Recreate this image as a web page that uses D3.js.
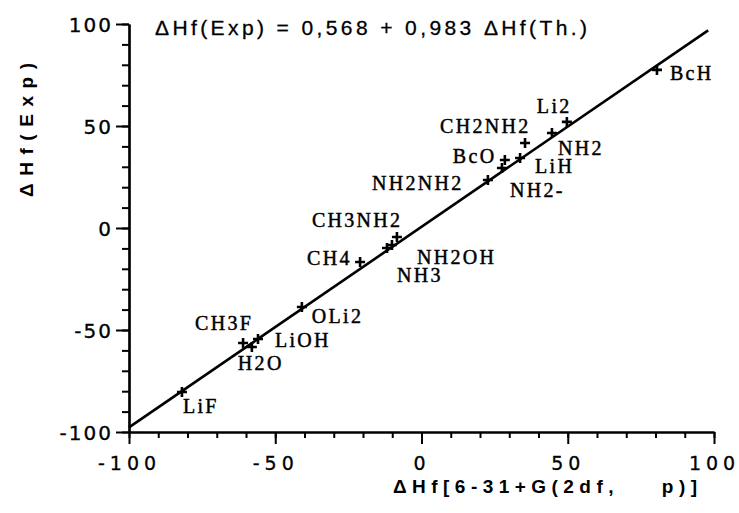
<!DOCTYPE html>
<html>
<head>
<meta charset="utf-8">
<script src="https://cdn.jsdelivr.net/npm/d3@7"></script>
<style>
  html, body { margin: 0; padding: 0; background: #fff; }
  svg { display: block; }
</style>
</head>
<body>
<svg id="chart" width="739" height="513"></svg>
<script>
// ---- data ----
const molecules = ["BcH","Li2","NH2","CH2NH2","LiH","BcO","NH2-","NH2NH2","CH3NH2","NH2OH","NH3","CH4","OLi2","CH3F","H2O","LiOH","LiF"];
const hfTheory  = [80.5, 49.7, 44.6, 35.4, 33.7, 28.5, 27.5, 22.7, -8.4, -10.1, -11.8, -21.0, -40.9, -61.0, -58.0, -55.9, -81.9];
const hfExp     = [77.5, 52.0, 46.6, 41.7, 34.3, 33.3, 29.4, 23.5, -4.4, -8.3, -9.8, -16.7, -38.7, -56.4, -58.3, -54.4, -80.4];
const fitIntercept = 0.568;
const fitSlope = 0.983;
const fitRange = [-100, 98];
const majorTicks = [-100, -50, 0, 50, 100];
const minorTicks = d3.range(-100, 101, 10);
const titleText = "\u0394Hf(Exp) = 0,568 + 0,983 \u0394Hf(Th.)";
const xTitle = "\u0394Hf[6-31+G(2df,    p)]";
const yTitle = "\u0394Hf(Exp)";

// ---- layout (label offsets in px from each point) ----
const labelOffsets = {
  "BcH":[13,10], "Li2":[-30,-9], "NH2":[6,22], "CH2NH2":[-85,-10], "LiH":[15,15],
  "BcO":[-52,3], "NH2-":[8,29], "NH2NH2":[-116,10], "CH3NH2":[-85,-10],
  "NH2OH":[25,19], "NH3":[10,34], "CH4":[-53,3], "OLi2":[10,16], "CH3F":[-48,-13],
  "H2O":[-14,23], "LiOH":[17,8], "LiF":[1,21]
};

const svg = d3.select("#chart");
const x = d3.scaleLinear().domain([-100, 100]).range([129, 714]);
const y = d3.scaleLinear().domain([-100, 100]).range([432, 24]);
const x0 = y(-100), y0 = x(-100);
const fmt = d => String(d);

// axes
const tickFont = "'DejaVu Sans', sans-serif";
const gx = svg.append("g").attr("transform", `translate(0,${x0})`);
gx.call(d3.axisBottom(x).tickValues(minorTicks).tickSize(6).tickFormat("").tickSizeOuter(0));
gx.call(g => g.append("g").call(d3.axisBottom(x).tickValues(majorTicks).tickSize(12).tickFormat(fmt).tickSizeOuter(0)));
gx.selectAll("path.domain").attr("stroke", "#000").attr("stroke-width", 2.2);
gx.selectAll("line").attr("stroke", "#000").attr("stroke-width", 2);
gx.selectAll("text").attr("fill", "#000").attr("font-family", tickFont).attr("font-size", 19)
  .attr("stroke", "#000").attr("stroke-width", 0.3)
  .style("letter-spacing", "5px").attr("y", 0).attr("dy", 0)
  .attr("transform", "translate(0,38)");

const gy = svg.append("g").attr("transform", `translate(${y0},0)`);
gy.call(d3.axisLeft(y).tickValues(minorTicks).tickSize(7).tickFormat("").tickSizeOuter(0));
gy.call(g => g.append("g").call(d3.axisLeft(y).tickValues(majorTicks).tickSize(13).tickFormat(fmt).tickSizeOuter(0)));
gy.selectAll("path.domain").attr("stroke", "#000").attr("stroke-width", 2.2);
gy.selectAll("line").attr("stroke", "#000").attr("stroke-width", 2);
gy.selectAll("text").attr("fill", "#000").attr("font-family", tickFont).attr("font-size", 20)
  .attr("stroke", "#000").attr("stroke-width", 0.3)
  .style("letter-spacing", "2px").attr("x", -16).attr("dy", "0.36em");

// fit line
const line = d3.line().x(d => x(d)).y(d => y(fitIntercept + fitSlope * d));
svg.append("path").datum(fitRange).attr("d", line)
  .attr("fill", "none").attr("stroke", "#000").attr("stroke-width", 2.6);

// points
const pts = molecules.map((m, i) => ({ name: m, tx: hfTheory[i], ex: hfExp[i] }));
const arm = 5;
svg.append("g").selectAll("path").data(pts).join("path")
  .attr("d", d => { const px = x(d.tx), py = y(d.ex);
    return `M${px-arm},${py}H${px+arm}M${px},${py-arm}V${py+arm}`; })
  .attr("stroke", "#000").attr("stroke-width", 2.6).attr("fill", "none");

// labels
svg.append("g").selectAll("text").data(pts).join("text")
  .attr("x", d => x(d.tx) + labelOffsets[d.name][0])
  .attr("y", d => y(d.ex) + labelOffsets[d.name][1])
  .attr("font-family", "'Liberation Serif', 'Times New Roman', serif")
  .attr("font-size", 20).style("letter-spacing", "2.3px").attr("fill", "#000")
  .attr("stroke", "#000").attr("stroke-width", 0.45)
  .text(d => d.name);

// title equation
svg.append("text").attr("x", 155).attr("y", 35)
  .attr("font-family", "'Liberation Sans', Arial, sans-serif").attr("font-size", 21)
  .attr("stroke", "#000").attr("stroke-width", 0.3)
  .attr("textLength", 432).attr("lengthAdjust", "spacing").attr("fill", "#000")
  .text(titleText);

// x axis title
svg.append("text").attr("x", 393).attr("y", 493)
  .attr("font-family", "'Liberation Sans', Arial, sans-serif").attr("font-size", 19)
  .attr("font-weight", "bold").style("white-space", "pre")
  .attr("textLength", 304).attr("lengthAdjust", "spacing").attr("fill", "#000")
  .text(xTitle);

// y axis title
svg.append("text").attr("transform", "translate(33,197) rotate(-90)")
  .attr("font-family", "'Liberation Sans', Arial, sans-serif").attr("font-size", 19)
  .attr("font-weight", "bold")
  .attr("textLength", 134).attr("lengthAdjust", "spacing").attr("fill", "#000")
  .text(yTitle);
</script>
</body>
</html>
